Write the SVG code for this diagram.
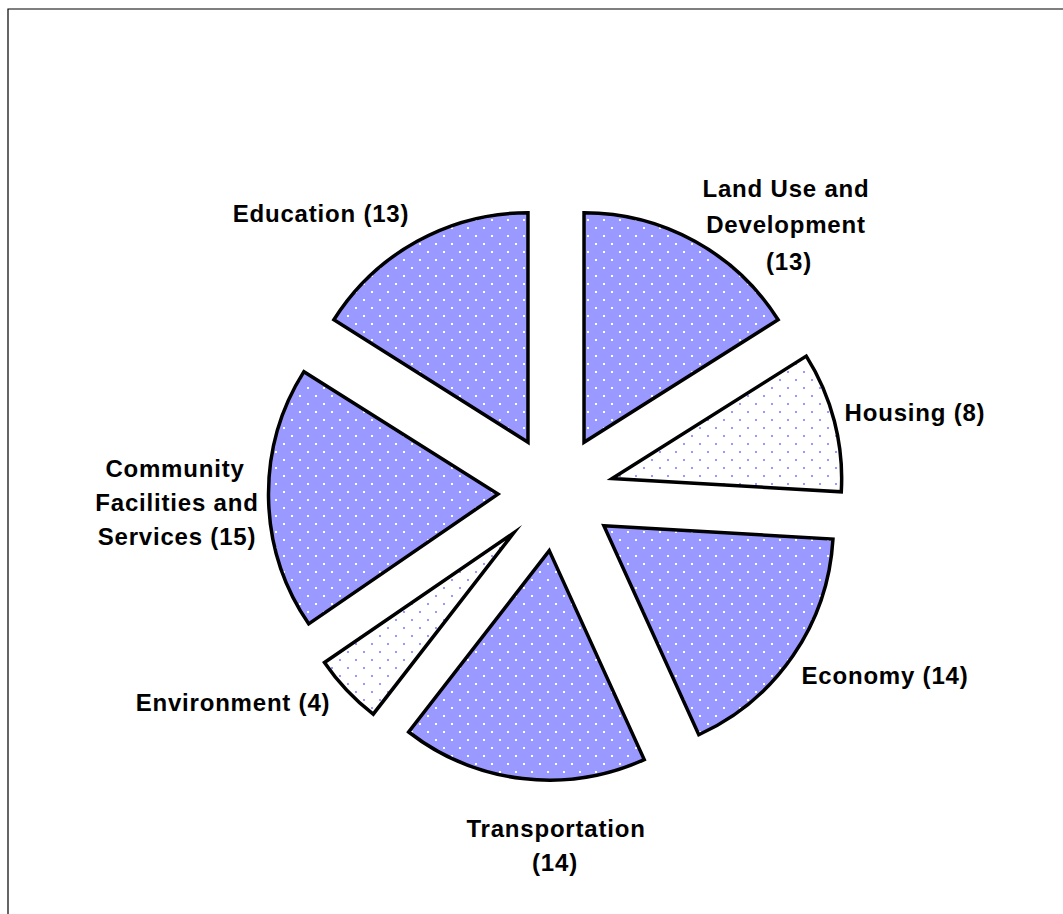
<svg xmlns="http://www.w3.org/2000/svg" width="1063" height="914" viewBox="0 0 1063 914">
<defs>
<pattern id="pBlue" width="16" height="16" patternUnits="userSpaceOnUse">
<rect width="16" height="16" fill="#9999FF"/>
<rect x="3" y="3" width="2" height="2" fill="#ffffff"/>
<rect x="11" y="11" width="2" height="2" fill="#ffffff"/>
</pattern>
<pattern id="pWhite" width="16" height="16" patternUnits="userSpaceOnUse">
<rect width="16" height="16" fill="#ffffff"/>
<rect x="3" y="3" width="2" height="2" fill="#9999FF"/>
<rect x="11" y="11" width="2" height="2" fill="#9999FF"/>
</pattern>
<style>
.slice{stroke:#000;stroke-width:3.5;stroke-linejoin:miter;stroke-miterlimit:10}
.blue{fill:url(#pBlue)}
.white{fill:url(#pWhite)}
.lbl{font-family:"Liberation Sans",Arial,sans-serif;font-weight:bold;font-size:24px;letter-spacing:0.8px;fill:#000;text-anchor:middle}
</style>
</defs>
<rect width="1063" height="914" fill="#ffffff"/>
<g id="frame">
<path d="M8,914 L8,9 L1063,9" fill="none" stroke="#000" stroke-width="1.2"/>
</g>
<g id="landuse">
<path class="slice blue" d="M584.02,442.21 L584.02,212.71 A229.5,229.5 0 0 1 778.12,319.75 Z"/>
<text class="lbl" x="786" y="197">Land Use and</text>
<text class="lbl" x="786" y="233">Development</text>
<text class="lbl" x="789" y="270">(13)</text>
</g>
<g id="housing">
<path class="slice white" d="M612.17,478.53 L806.27,356.07 A229.5,229.5 0 0 1 841.28,491.87 Z"/>
<text class="lbl" x="915" y="421">Housing (8)</text>
</g>
<g id="economy">
<path class="slice blue" d="M603.85,525.78 L832.96,539.12 A229.5,229.5 0 0 1 698.80,734.72 Z"/>
<text class="lbl" x="885" y="684">Economy (14)</text>
</g>
<g id="transportation">
<path class="slice blue" d="M549.27,550.61 L644.22,759.55 A229.5,229.5 0 0 1 408.67,732.00 Z"/>
<text class="lbl" x="556" y="837">Transportation</text>
<text class="lbl" x="555" y="871">(14)</text>
</g>
<g id="environment">
<path class="slice white" d="M513.81,532.80 L373.21,714.19 A229.5,229.5 0 0 1 324.47,662.50 Z"/>
<text class="lbl" x="233" y="711">Environment (4)</text>
</g>
<g id="community">
<path class="slice blue" d="M498.01,494.12 L308.67,623.82 A229.5,229.5 0 0 1 303.91,371.66 Z"/>
<text class="lbl" x="175" y="477">Community</text>
<text class="lbl" x="177" y="511">Facilities and</text>
<text class="lbl" x="177" y="545">Services (15)</text>
</g>
<g id="education">
<path class="slice blue" d="M527.98,442.21 L333.88,319.75 A229.5,229.5 0 0 1 527.98,212.71 Z"/>
<text class="lbl" x="321" y="222">Education (13)</text>
</g>
<g id="connectors"></g>
</svg>
